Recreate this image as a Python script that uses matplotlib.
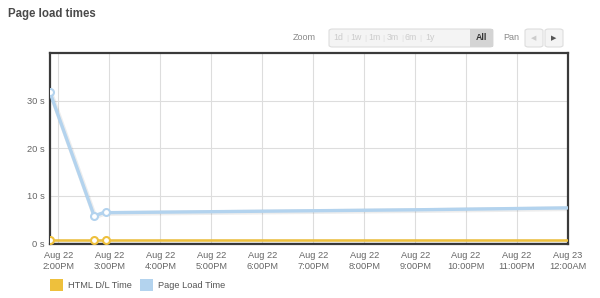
import matplotlib
matplotlib.use("Agg")
import matplotlib.pyplot as plt
import matplotlib.dates as mdates
import matplotlib.patheffects as pe
from matplotlib.patches import Rectangle, FancyBboxPatch
import pandas as pd

plt.rcParams['font.family'] = ['Liberation Sans', 'DejaVu Sans']

# ---- data ----
times = pd.to_datetime([
    "2012-08-22 13:50", "2012-08-22 14:42", "2012-08-22 14:56",
    "2012-08-22 15:00", "2012-08-22 18:00", "2012-08-22 21:00",
    "2012-08-23 00:00",
])
page_load = [31.7, 5.7, 6.6, 6.4, 6.7, 7.0, 7.4]
html_dl = [0.7, 0.7, 0.7, 0.7, 0.7, 0.7, 0.7]
n_marked = 3  # points drawn with markers
series_names = ["HTML D/L Time", "Page Load Time"]
y_ticks = [0, 10, 20, 30]
y_tick_labels = ["0 s", "10 s", "20 s", "30 s"]
zoom_buttons = ["1d", "1w", "1m", "3m", "6m", "1y", "All"]

W, H = 600, 298
fig = plt.figure(figsize=(W / 100, H / 100), dpi=100)
fig.patch.set_facecolor("white")


def fx(px):
    return px / W


def fy(py):
    return 1 - py / H


ax = fig.add_axes([fx(50), fy(244), fx(568) - fx(50), fy(53) - fy(244)])

yellow = "#EEC03C"
blue = "#B3D3EE"
shadow = [pe.SimpleLineShadow(offset=(0.6, -0.6), shadow_color="#000000", alpha=0.07, linewidth=3.5), pe.Normal()]

ax.plot(times, html_dl, color=yellow, lw=1.8, zorder=3, path_effects=shadow)
ax.plot(times[:n_marked], html_dl[:n_marked], ls="none", marker="o", ms=5,
        mfc="white", mec=yellow, mew=1.5, zorder=4)
ax.plot(times, page_load, color=blue, lw=2.4, zorder=3, path_effects=shadow)
ax.plot(times[:n_marked], page_load[:n_marked], ls="none", marker="o", ms=5,
        mfc="white", mec=blue, mew=1.5, zorder=4)

ax.set_xlim(times[0], times[-1])
ax.set_ylim(-0.2, 40)
ax.set_yticks(y_ticks)
ax.set_yticklabels(y_tick_labels)
ax.xaxis.set_major_locator(mdates.HourLocator(interval=1))


def fmt(x, pos=None):
    d = mdates.num2date(x)
    h = d.hour % 12
    if h == 0:
        h = 12
    ampm = "AM" if d.hour < 12 else "PM"
    return f"{d.strftime('%b')} {d.day}\n{h}:{d.minute:02d}{ampm}"


ax.xaxis.set_major_formatter(plt.FuncFormatter(fmt))
ax.grid(True, color="#DDDDDD", lw=0.8, zorder=0)
ax.tick_params(axis="both", length=0, labelsize=6.7, colors="#666666")
ax.tick_params(axis="x", pad=5)
ax.tick_params(axis="y", pad=4)
for sp in ax.spines.values():
    sp.set_color("#3A3A3A")
    sp.set_linewidth(1.6)
for lbl in ax.get_xticklabels():
    lbl.set_linespacing(1.3)

# title
fig.text(fx(8), fy(14), "Page load times", fontsize=8.3, fontweight="bold",
         color="#4A4A4A", ha="left", va="center")

# zoom toolbar
fig.text(fx(293), fy(38), "Zoom", fontsize=6.5, color="#888888", ha="left", va="center")
fig.add_artist(FancyBboxPatch((fx(329), fy(47)), fx(493) - fx(329), fy(29) - fy(47),
                              boxstyle="round,pad=0,rounding_size=0.006",
                              transform=fig.transFigure, fc="#F4F4F4", ec="#DDDDDD", lw=0.8))
fig.add_artist(Rectangle((fx(470), fy(47)), fx(493) - fx(470), fy(29) - fy(47),
                         transform=fig.transFigure, fc="#D4D4D4", ec="none"))
btn_x = [338, 356, 374, 393, 411, 430, 481]
for i, (b, bx) in enumerate(zip(zoom_buttons, btn_x)):
    last = b == "All"
    fig.text(fx(bx), fy(38), b, fontsize=6.3, color="#333333" if last else "#CCCCCC",
             fontweight="bold" if last else "normal", ha="center", va="center")
    if i < len(zoom_buttons) - 2:
        fig.text(fx(bx + 9), fy(38), "|", fontsize=6, color="#DDDDDD", ha="center", va="center")
fig.text(fx(503), fy(38), "Pan", fontsize=6.5, color="#888888", ha="left", va="center")
for x0, x1, mk, col in [(525, 543, "<", "#CCCCCC"), (545, 563, ">", "#555555")]:
    fig.add_artist(FancyBboxPatch((fx(x0), fy(47)), fx(x1) - fx(x0), fy(29) - fy(47),
                                  boxstyle="round,pad=0,rounding_size=0.006",
                                  transform=fig.transFigure, fc="#F4F4F4", ec="#DDDDDD", lw=0.8))
    fig.text(fx((x0 + x1) / 2), fy(38), "◀" if mk == "<" else "▶", fontsize=5,
             color=col, ha="center", va="center", family="DejaVu Sans")

# legend
for bx, tx, col, name in [(50, 68, yellow, series_names[0]), (140, 158, blue, series_names[1])]:
    fig.add_artist(Rectangle((fx(bx), fy(291)), fx(bx + 13) - fx(bx), fy(279) - fy(291),
                             transform=fig.transFigure, fc=col, ec="none"))
    fig.text(fx(tx), fy(285), name, fontsize=6.7, color="#555555", ha="left", va="center")

fig.savefig("out.png", dpi=100, facecolor="white")
